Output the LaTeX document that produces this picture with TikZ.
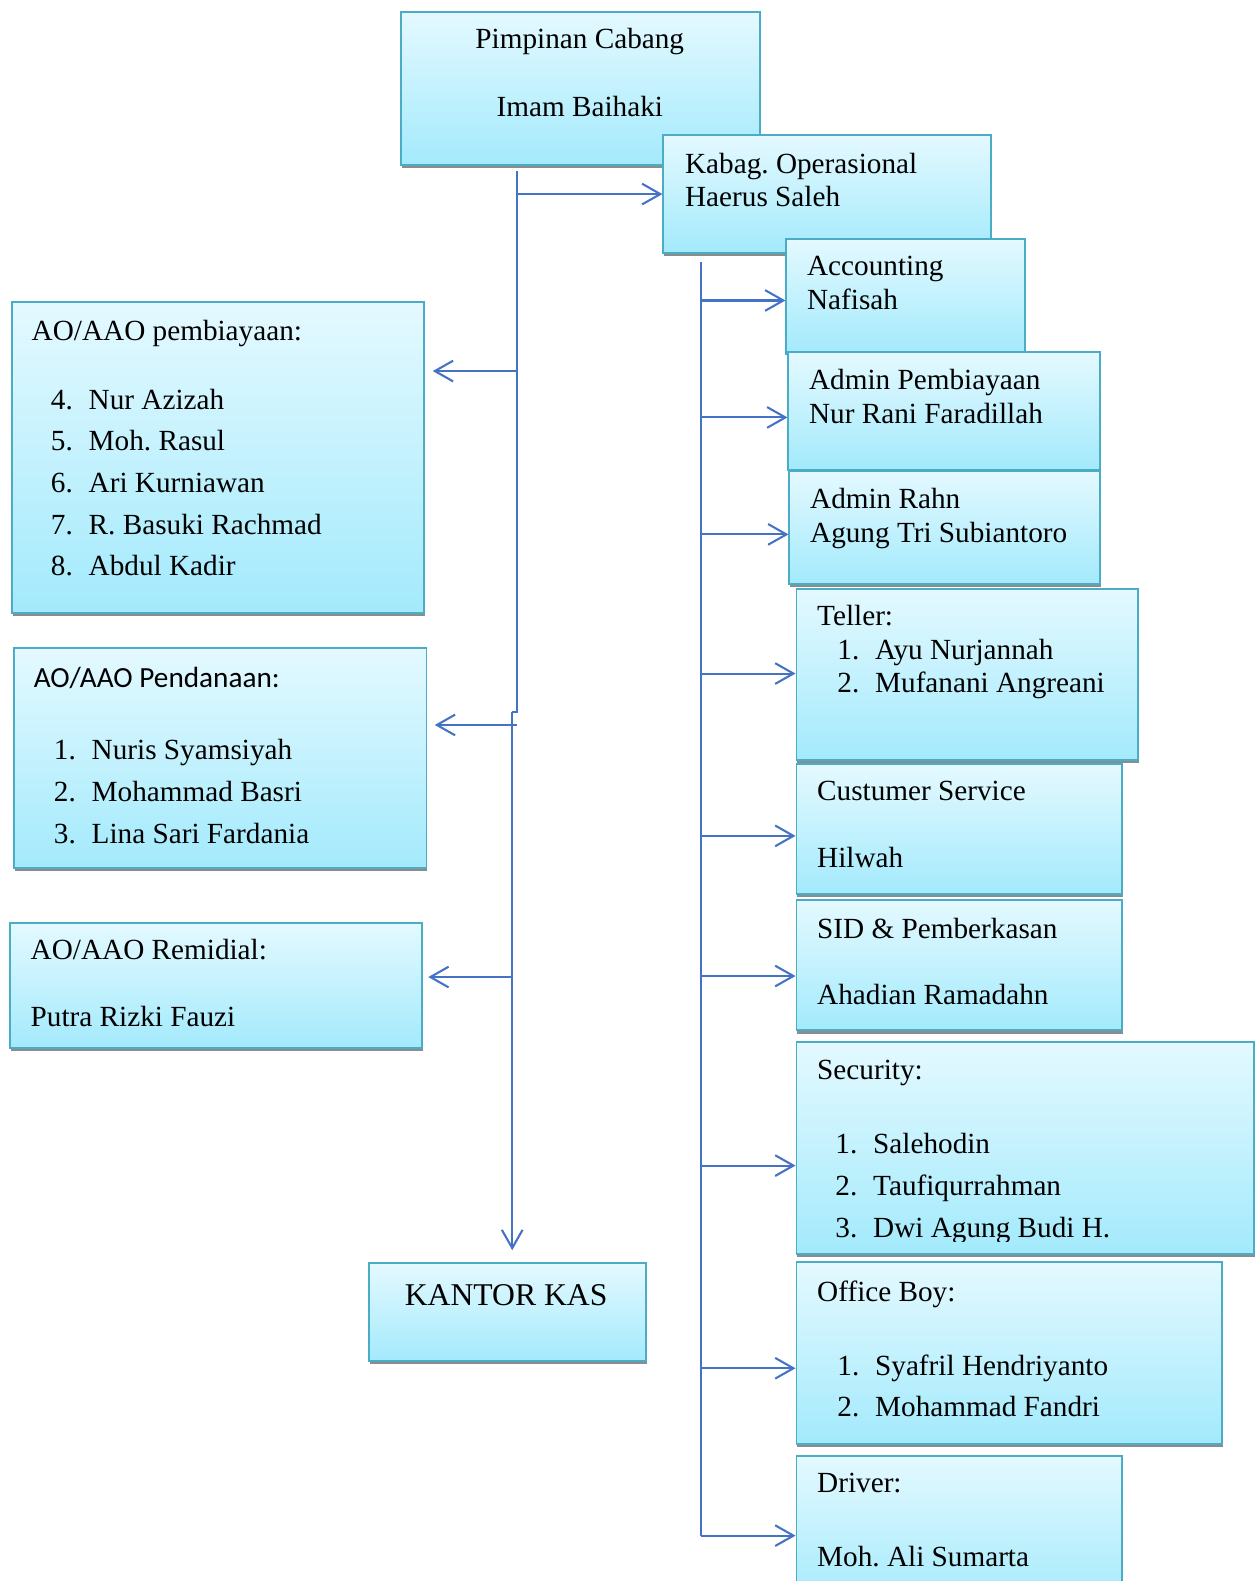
\documentclass[tikz,border=0pt]{standalone}
\usepackage{fontspec}
\setmainfont{Liberation Serif}
\newfontfamily\calibrifont{Carlito}
\usetikzlibrary{arrows.meta, shadows}

\definecolor{boxtop}{RGB}{228,249,255}
\definecolor{boxbottom}{RGB}{163,234,252}
\definecolor{boxline}{RGB}{75,172,198}
\definecolor{linkblue}{RGB}{68,114,196}
\newcommand{\pxu}{0.414pt}
\newcommand{\numitem}[2]{\makebox[15.5pt][l]{#1}#2}

\tikzset{
  orgbox/.style={draw=boxline, line width=0.8pt, top color=boxtop, bottom color=boxbottom,
    anchor=north west, inner sep=0pt,
    drop shadow={shadow xshift=0.4pt, shadow yshift=-1.3pt, fill=black!45, opacity=1}},
  boxtext/.style={anchor=north west, inner sep=0pt, align=left,
    font=\fontsize{12}{13.7}\selectfont\frenchspacing, execute at begin node=\strut},
  link/.style={draw=linkblue, line width=0.85pt, -{Straight Barb[length=7.5pt, width=8.5pt]}},
}

\begin{document}
\begin{tikzpicture}[x=\pxu, y=-\pxu]
  \useasboundingbox (0,0) rectangle (1249,1568);

  \node[orgbox, minimum width=356*\pxu, minimum height=152*\pxu] (pimpinan) at (397,11) {};
  \node[boxtext, align=center, anchor=north] (pimpinantext) at (575,28) {Pimpinan Cabang\\[14pt]Imam Baihaki};
  \node[orgbox, minimum width=325*\pxu, minimum height=117*\pxu] (kabag) at (657,133) {};
  \node[boxtext] (kabagtext) at (679,151) {Kabag. Operasional\\Haerus Saleh};
  \node[orgbox, minimum width=237*\pxu, minimum height=114*\pxu] (accounting) at (779,236) {};
  \node[boxtext] (accountingtext) at (800,254) {Accounting\\Nafisah};
  \node[orgbox, minimum width=309*\pxu, minimum height=117*\pxu] (adminpemb) at (781,348) {};
  \node[boxtext] (adminpembtext) at (802,366) {Admin Pembiayaan\\Nur Rani Faradillah};
  \node[orgbox, minimum width=308*\pxu, minimum height=112*\pxu] (adminrahn) at (782,466) {};
  \node[boxtext] (adminrahntext) at (803,484) {Admin Rahn\\Agung Tri Subiantoro};
  \node[orgbox, minimum width=339*\pxu, minimum height=170*\pxu] (teller) at (789,583) {};
  \node[boxtext] (tellertext) at (810,600) {Teller:\\
    \hspace*{8.3pt}\numitem{1.}{Ayu Nurjannah}\\
    \hspace*{8.3pt}\numitem{2.}{Mufanani Angreani}};
  \node[orgbox, minimum width=323*\pxu, minimum height=129*\pxu] (custserv) at (789,757) {};
  \node[boxtext] (custservtext) at (810,774) {Custumer Service\\[14pt]Hilwah};
  \node[orgbox, minimum width=323*\pxu, minimum height=129*\pxu] (sid) at (789,892) {};
  \node[boxtext] (sidtext) at (810,910) {SID \& Pemberkasan\\[13.6pt]Ahadian Ramadahn};
  \node[orgbox, minimum width=454*\pxu, minimum height=211*\pxu] (security) at (789,1032) {};
  \begin{scope}
    \clip (789,1032) rectangle (1243,1231);
    \node[boxtext] (securitytext) at (810,1051) {Security:\\[16.5pt]
      \hspace*{7.5pt}\numitem{1.}{Salehodin}\\[3.7pt]
      \hspace*{7.5pt}\numitem{2.}{Taufiqurrahman}\\[3.7pt]
      \hspace*{7.5pt}\numitem{3.}{Dwi Agung Budi H.}};
  \end{scope}
  \node[orgbox, minimum width=422*\pxu, minimum height=180*\pxu] (officeboy) at (789,1251) {};
  \node[boxtext] (officeboytext) at (810,1270) {Office Boy:\\[16.5pt]
    \hspace*{8.3pt}\numitem{1.}{Syafril Hendriyanto}\\[3.3pt]
    \hspace*{8.3pt}\numitem{2.}{Mohammad Fandri}};
  \node[orgbox, minimum width=323*\pxu, minimum height=150*\pxu] (driver) at (789,1443) {};
  \node[boxtext] (drivertext) at (810,1461) {Driver:\\[16.5pt]Moh. Ali Sumarta};

  \node[orgbox, minimum width=409*\pxu, minimum height=308*\pxu] (pembiayaan) at (11,299) {};
  \node[boxtext] (pembiayaantext) at (31,317) {AO/AAO pembiayaan:\\[14.5pt]
    \hspace*{7.9pt}\numitem{4.}{Nur Azizah}\\[3.4pt]
    \hspace*{7.9pt}\numitem{5.}{Moh. Rasul}\\[3.4pt]
    \hspace*{7.9pt}\numitem{6.}{Ari Kurniawan}\\[3.4pt]
    \hspace*{7.9pt}\numitem{7.}{R. Basuki Rachmad}\\[3.4pt]
    \hspace*{7.9pt}\numitem{8.}{Abdul Kadir}};
  \node[orgbox, minimum width=409*\pxu, minimum height=218*\pxu] (pendanaan) at (13,642) {};
  \node[boxtext] (pendanaantext) at (33,661) {{\calibrifont AO/AAO Pendanaan:}\\[16.1pt]
    \hspace*{8.3pt}\numitem{1.}{Nuris Syamsiyah}\\[3.4pt]
    \hspace*{8.3pt}\numitem{2.}{Mohammad Basri}\\[3.4pt]
    \hspace*{8.3pt}\numitem{3.}{Lina Sari Fardania}};
  \node[orgbox, minimum width=409*\pxu, minimum height=124*\pxu] (remidial) at (9,914) {};
  \node[boxtext] (remidialtext) at (30,931) {AO/AAO Remidial:\\[14pt]Putra Rizki Fauzi};
  \node[orgbox, minimum width=275*\pxu, minimum height=97*\pxu] (kantorkas) at (365,1252) {};
  \node[inner sep=0pt, anchor=base, font=\fontsize{13}{15}\selectfont] (kantorkastext) at (502,1295) {KANTOR KAS};

  \coordinate (topjoint) at (513,170);
  \coordinate (stepjoint) at (513,706);
  \coordinate (lowjoint) at (508,706);
  \coordinate (rightjoint) at (695,260);
  \coordinate (rightend) at (695,1523);

  \draw[link, -] (topjoint) -- (stepjoint) -- (lowjoint);
  \draw[link, shorten >=5pt] (lowjoint) -- (kantorkas.north -| lowjoint);
  \draw[link] (topjoint |- kabag.west) -- (kabag.west);
  \draw[link, shorten >=3pt] (topjoint |- 0,368) -- (pembiayaan.east |- 0,368);
  \draw[link, shorten >=3pt] (stepjoint |- 0,719) -- (pendanaan.east |- 0,719);
  \draw[link, shorten >=2pt] (lowjoint |- 0,969) -- (remidial.east |- 0,969);

  \draw[link, -] (rightjoint) -- (rightend);
  \foreach \target/\y in {accounting/298, adminpemb/414, adminrahn/530, teller/668,
      custserv/829, sid/968, security/1156, officeboy/1357, driver/1523}
    \draw[link] (rightjoint |- 0,\y) -- (\target.west |- 0,\y);
\end{tikzpicture}
\end{document}
